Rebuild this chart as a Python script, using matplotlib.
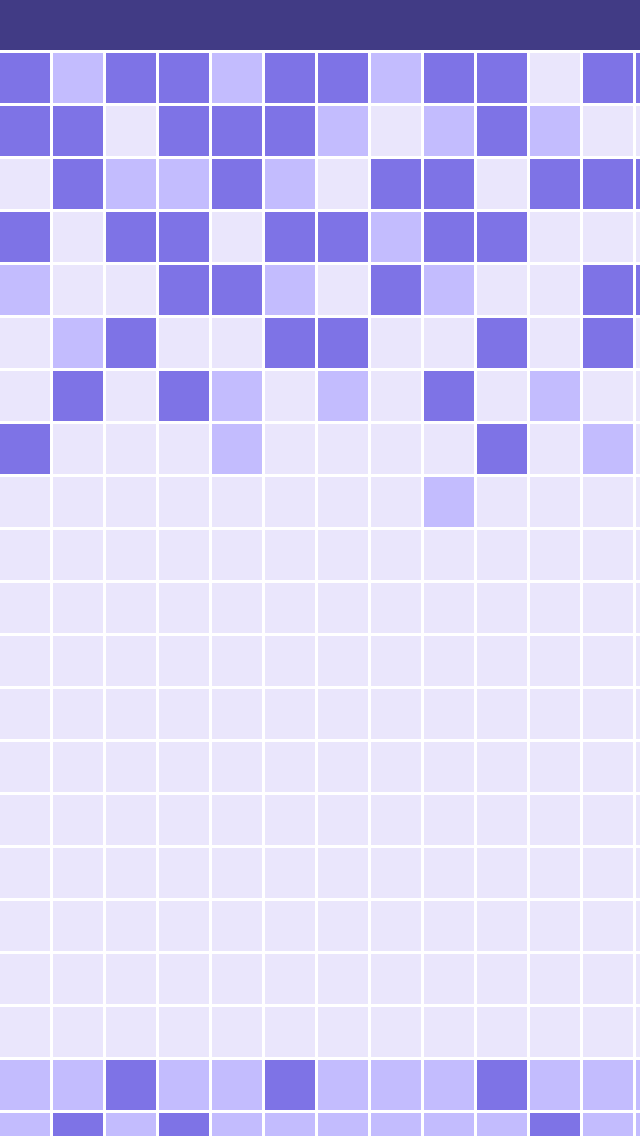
import matplotlib

matplotlib.use("Agg")
import matplotlib.pyplot as plt
from matplotlib.patches import Rectangle

# activity level per cell: 0 = none, 1 = some, 2 = high
levels = [
    [2, 1, 2, 2, 1, 2, 2, 1, 2, 2, 0, 2, 2],
    [2, 2, 0, 2, 2, 2, 1, 0, 1, 2, 1, 0, 0],
    [0, 2, 1, 1, 2, 1, 0, 2, 2, 0, 2, 2, 2],
    [2, 0, 2, 2, 0, 2, 2, 1, 2, 2, 0, 0, 0],
    [1, 0, 0, 2, 2, 1, 0, 2, 1, 0, 0, 2, 2],
    [0, 1, 2, 0, 0, 2, 2, 0, 0, 2, 0, 2, 0],
    [0, 2, 0, 2, 1, 0, 1, 0, 2, 0, 1, 0, 0],
    [2, 0, 0, 0, 1, 0, 0, 0, 0, 2, 0, 1, 0],
    [0, 0, 0, 0, 0, 0, 0, 0, 1, 0, 0, 0, 0],
    [0] * 13,
    [0] * 13,
    [0] * 13,
    [0] * 13,
    [0] * 13,
    [0] * 13,
    [0] * 13,
    [0] * 13,
    [0] * 13,
    [0] * 13,
    [1, 1, 2, 1, 1, 2, 1, 1, 1, 2, 1, 1, 1],
    [1, 2, 1, 2, 1, 1, 1, 1, 1, 1, 2, 1, 1],
]
level_colors = ["#eae6fc", "#c3bcfe", "#7e73e6"]
header_color = "#413b85"

W, H = 640, 1136
pitch = 53.0
cell = 50.0 / pitch

fig = plt.figure(figsize=(W / 100, H / 100), dpi=100)
ax = fig.add_axes([0, 0, 1, 1])
ax.set_xlim(0, W / pitch)
ax.set_ylim((H - pitch) / pitch, -1)
ax.axis("off")

# header band
ax.add_patch(Rectangle((0, -1), W / pitch, cell, color=header_color, lw=0))

for r, row in enumerate(levels):
    for c, lv in enumerate(row):
        ax.add_patch(Rectangle((c, r), cell, cell, color=level_colors[lv], lw=0))

fig.savefig("out.png", dpi=100, facecolor="white")
